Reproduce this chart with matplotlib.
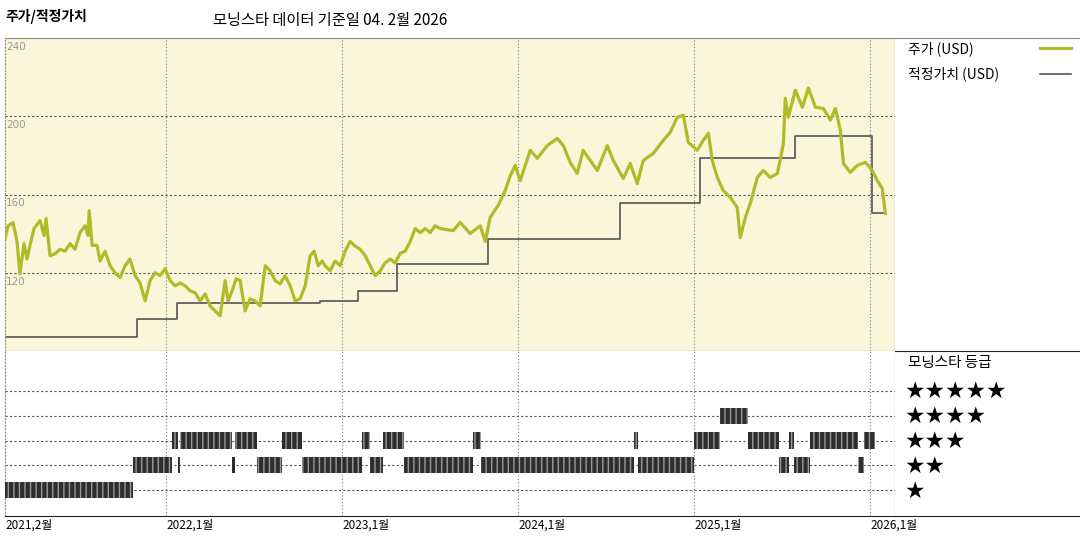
import matplotlib
matplotlib.use("Agg")
import matplotlib.pyplot as plt

plt.rcParams['font.family'] = ['Noto Sans CJK KR', 'DejaVu Sans']

# Price (USD), dates as decimal years
price_t = [2021.085, 2021.102, 2021.131, 2021.153, 2021.170, 2021.193, 2021.210, 2021.227, 2021.250, 2021.284,
           2021.307, 2021.318, 2021.341, 2021.369, 2021.398, 2021.426, 2021.455, 2021.483, 2021.511, 2021.540,
           2021.557, 2021.563, 2021.580, 2021.608, 2021.625, 2021.653, 2021.682, 2021.710, 2021.739, 2021.767,
           2021.795, 2021.824, 2021.852, 2021.881, 2021.909, 2021.938, 2021.966, 2021.994, 2022.023, 2022.051,
           2022.080, 2022.108, 2022.136, 2022.165, 2022.193, 2022.222, 2022.250, 2022.278, 2022.307, 2022.335,
           2022.352, 2022.375, 2022.398, 2022.420, 2022.449, 2022.477, 2022.506, 2022.534, 2022.563, 2022.591,
           2022.619, 2022.648, 2022.676, 2022.705, 2022.733, 2022.761, 2022.790, 2022.818, 2022.841, 2022.864,
           2022.886, 2022.903, 2022.932, 2022.960, 2022.989, 2023.017, 2023.045, 2023.074, 2023.102, 2023.131,
           2023.159, 2023.188, 2023.216, 2023.244, 2023.273, 2023.301, 2023.330, 2023.358, 2023.386, 2023.415,
           2023.443, 2023.472, 2023.500, 2023.528, 2023.557, 2023.631, 2023.670, 2023.727, 2023.784, 2023.813,
           2023.841, 2023.886, 2023.926, 2023.955, 2023.983, 2024.011, 2024.068, 2024.108, 2024.165, 2024.222,
           2024.256, 2024.295, 2024.335, 2024.369, 2024.409, 2024.449, 2024.506, 2024.540, 2024.597, 2024.636,
           2024.676, 2024.710, 2024.767, 2024.824, 2024.864, 2024.903, 2024.938, 2024.966, 2025.017, 2025.051,
           2025.080, 2025.102, 2025.131, 2025.165, 2025.205, 2025.244, 2025.261, 2025.290, 2025.318, 2025.358,
           2025.392, 2025.432, 2025.472, 2025.506, 2025.517, 2025.534, 2025.574, 2025.614, 2025.648, 2025.688,
           2025.733, 2025.773, 2025.801, 2025.830, 2025.847, 2025.886, 2025.926, 2025.972, 2026.011, 2026.040,
           2026.068, 2026.085]
price = [137.4, 144.0, 145.6, 136.0, 119.5, 134.9, 127.0, 134.0, 142.6, 146.7,
         139.0, 147.7, 128.7, 129.7, 132.0, 131.0, 134.9, 132.0, 140.5, 144.0,
         139.0, 151.8, 134.0, 134.0, 126.0, 131.0, 123.6, 120.0, 117.5, 123.6,
         127.0, 118.5, 114.8, 105.6, 116.0, 120.0, 118.5, 122.0, 116.0, 113.3,
         114.8, 113.3, 110.8, 109.7, 105.6, 109.2, 103.0, 100.5, 98.0, 116.0,
         105.6, 110.8, 117.0, 116.0, 100.5, 106.7, 105.6, 103.0, 123.6, 121.0,
         116.0, 114.3, 118.5, 113.3, 105.6, 106.7, 113.3, 128.7, 131.0, 123.6,
         126.0, 123.6, 121.0, 126.0, 123.6, 131.0, 136.0, 133.6, 132.0, 128.7,
         123.6, 118.5, 121.0, 125.0, 127.0, 125.0, 130.0, 131.0, 136.0, 142.6,
         140.5, 142.6, 140.5, 144.0, 142.6, 141.5, 145.8, 140.0, 144.0, 136.0,
         148.4, 154.4, 162.0, 169.7, 174.9, 167.0, 182.6, 178.5, 185.0, 188.7,
         185.0, 176.4, 170.8, 182.6, 177.4, 172.3, 185.0, 177.4, 168.2, 175.9,
         165.6, 177.4, 181.0, 187.7, 191.8, 199.5, 200.5, 186.7, 182.6, 187.7,
         191.3, 177.4, 168.7, 162.0, 158.5, 153.3, 138.0, 148.2, 155.4, 168.7,
         172.3, 168.7, 170.8, 186.0, 209.2, 199.5, 213.3, 204.6, 214.4, 204.6,
         204.0, 198.0, 204.0, 192.8, 175.9, 171.3, 174.9, 176.4, 172.3, 167.0,
         163.0, 150.3]

# Fair value (USD), step changes
fair_t = [2021.085, 2021.835, 2022.062, 2022.875, 2023.090, 2023.310, 2023.830, 2024.580, 2025.030, 2025.570, 2026.010, 2026.085]
fair = [87.2, 96.4, 104.6, 105.6, 110.8, 124.6, 137.4, 155.4, 178.5, 189.7, 150.3, 150.3]

# Morningstar rating periods: (start, end, stars)
rating_start = [2021.085, 2021.813, 2022.034, 2022.068, 2022.080, 2022.375, 2022.392, 2022.517, 2022.659, 2022.773,
                2023.114, 2023.159, 2023.233, 2023.352, 2023.744, 2023.790, 2024.659, 2024.682, 2025.000, 2025.148,
                2025.307, 2025.483, 2025.540, 2025.568, 2025.659, 2025.932, 2025.966]
rating_end = rating_start[1:] + [2026.028]
rating = [1, 2, 3, 2, 3, 2, 3, 2, 3, 2,
          3, 2, 3, 2, 3, 2, 3, 2, 3, 4,
          3, 2, 3, 2, 3, 2, 3]

year_ticks = [2021.085, 2022, 2023, 2024, 2025, 2026]
year_labels = ["2021,2월", "2022,1월", "2023,1월", "2024,1월", "2025,1월", "2026,1월"]
y_ticks = [80, 120, 160, 200, 240]

W, H = 1080, 540
fig = plt.figure(figsize=(10.8, 5.4), dpi=100)
x0, x1 = 5 / W, 895 / W
ax = fig.add_axes([x0, 1 - 351 / H, x1 - x0, (351 - 38) / H])
axr = fig.add_axes([x0, 1 - 516 / H, x1 - x0, (516 - 351) / H])
leg = fig.add_axes([x1, 1 - 516 / H, 1 - x1, (516 - 38) / H])

xlim = (2021.085, 2026.14)
olive = '#b3ba2a'

# top panel
ax.set_facecolor('#f9f6da')
ax.plot(price_t, price, color=olive, lw=2.3, zorder=3)
ax.plot(fair_t, fair, color='#555555', lw=1.2, drawstyle='steps-post', zorder=2)
ax.set_xlim(xlim)
ax.set_ylim(80, 240)
for v in [120, 160, 200]:
    ax.axhline(v, color='#555555', ls=(0, (2, 2)), lw=0.8)
for yr in year_ticks[1:]:
    ax.axvline(yr, color='#777777', ls=(0, (1, 2)), lw=0.8)
for v in y_ticks:
    ax.text(xlim[0] + 0.005, v - 2, str(v), fontsize=7.5, color='#999999', va='top', ha='left',
            family=['DejaVu Sans'])
ax.set_xticks([])
ax.set_yticks([])
for s in ['top', 'left']:
    ax.spines[s].set_color('#888888')
    ax.spines[s].set_linewidth(0.8)
ax.spines['left'].set_linestyle((0, (1, 2)))
ax.spines['bottom'].set_color('#222222')
ax.spines['right'].set_color('#222222')

# rating panel
for a, b, r in zip(rating_start, rating_end, rating):
    axr.broken_barh([(a, b - a)], (r - 0.33, 0.66), facecolor='#2e2e2e', edgecolor='#9a9a9a',
                    hatch='|||', linewidth=0, zorder=3)
axr.set_xlim(xlim)
axr.set_ylim(-0.05, 6.62)
for r in range(1, 6):
    axr.axhline(r, color='#555555', ls=(0, (2, 2)), lw=0.8, zorder=1)
for yr in year_ticks[1:]:
    axr.axvline(yr, color='#777777', ls=(0, (1, 2)), lw=0.8, zorder=1)
axr.set_xticks([])
axr.set_yticks([])
axr.spines['top'].set_visible(False)
axr.spines['left'].set_color('#888888')
axr.spines['left'].set_linestyle((0, (1, 2)))
axr.spines['bottom'].set_color('#222222')
axr.spines['right'].set_color('#222222')
for t, lab in zip(year_ticks, year_labels):
    axr.text(t, -0.015, lab, transform=axr.get_xaxis_transform(), fontsize=8.5, ha='left', va='top')

# legend panel
leg.set_xlim(0, 185)
leg.set_ylim(478, 0)
leg.set_xticks([])
leg.set_yticks([])
leg.spines['right'].set_visible(False)
leg.spines['left'].set_visible(False)
leg.spines['top'].set_color('#888888')
leg.spines['bottom'].set_color('#222222')
leg.axhline(313, color='#222222', lw=0.8)
leg.text(13, 11, "주가 (USD)", fontsize=10, va='center')
leg.plot([145, 176], [10, 10], color=olive, lw=2.3)
leg.text(13, 36, "적정가치 (USD)", fontsize=10, va='center')
leg.plot([145, 176], [36, 36], color='#555555', lw=1.2)
leg.text(13, 325, "모닝스타 등급", fontsize=10.5, va='center')
for k, n in enumerate([5, 4, 3, 2, 1]):
    leg.text(10, 353 + 25 * k, "★" * n, fontsize=16.5, va='center', family=['DejaVu Sans'])

fig.text(5 / W, 1 - 17 / H, "주가/적정가치", fontsize=10, weight='bold', va='center')
fig.text(213 / W, 1 - 20 / H, "모닝스타 데이터 기준일 04. 2월 2026", fontsize=11, va='center')

fig.savefig("out.png", dpi=100)
